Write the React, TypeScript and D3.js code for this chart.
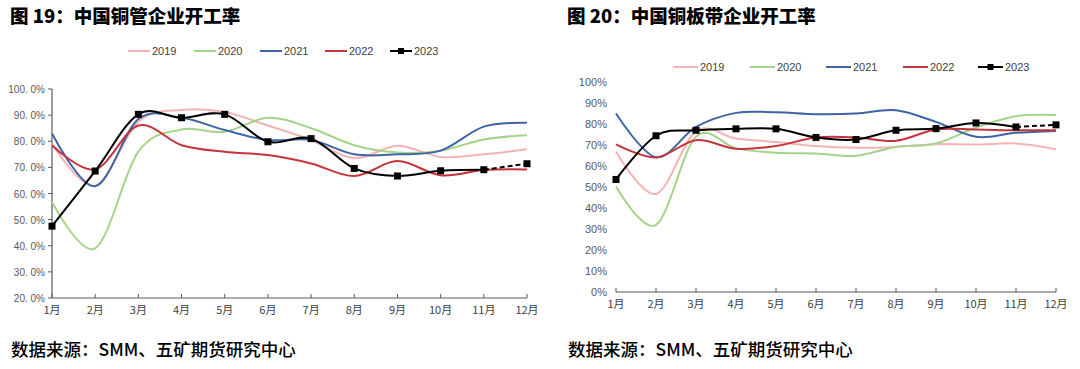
import React from "react";
import * as d3 from "d3";

// month labels shared by both charts
const months = ["1月", "2月", "3月", "4月", "5月", "6月", "7月", "8月", "9月", "10月", "11月", "12月"];
const years = ["2019", "2020", "2021", "2022", "2023"];
const colors = ["#F4B4B6", "#A6D38A", "#3E64A6", "#C5343A", "#000000"];

// 图19 铜管开工率 (%)
const tube2019 = [79, 63, 87.5, 92, 91.2, 86, 80.5, 73.5, 78.3, 74, 75, 76.9];
const tube2020 = [56.8, 39, 76, 84.5, 83.6, 89, 85, 78.5, 75.7, 76.4, 80.7, 82.3];
const tube2021 = [83, 62.8, 88.5, 89, 84.3, 80.5, 80.5, 75, 75, 76.4, 85.6, 87.1];
const tube2022 = [78.5, 69.2, 86, 78.5, 76, 74.7, 71.5, 66.7, 72.4, 67, 69, 69.2];
const tube2023 = [47.5, 68.6, 90.3, 89, 90.3, 79.8, 81, 69.6, 66.7, 68.7, 69.1, 71.4];
const tubeTicks = [20, 30, 40, 50, 60, 70, 80, 90, 100];

// 图20 铜板带开工率 (%)
const strip2019 = [66.8, 46.7, 76.5, 73.1, 71.4, 69.5, 68.7, 69.1, 70.4, 70.2, 70.7, 68];
const strip2020 = [50.2, 32, 74, 68.4, 66.3, 66, 64.9, 69.1, 70.7, 78.3, 83.7, 84.3];
const strip2021 = [85, 64.2, 78.6, 85.3, 85.6, 84.7, 85, 86.6, 81, 73.9, 75.8, 76.7];
const strip2022 = [70.3, 64.1, 72.3, 68.2, 69.5, 73.6, 73.6, 72, 77.4, 77.4, 77, 77];
const strip2023 = [53.6, 74.4, 77, 77.7, 77.7, 73.6, 72.6, 77, 77.8, 80.5, 78.6, 79.6];
const stripTicks = [0, 10, 20, 30, 40, 50, 60, 70, 80, 90, 100];

interface PanelProps {
  x0: number;
  title: string;
  series: number[][];
  ticks: number[];
  xRange: [number, number];
  yRange: [number, number];
  yDomain: [number, number];
  fmt: (v: number) => string;
  yAxisLine: boolean;
  tickFont: string;
  legendY: number;
  legendX: number[];
  legendLen: number;
}

function Panel(props: PanelProps) {
  const { x0, title, series, ticks, xRange, yRange, yDomain, fmt } = props;
  const x = d3.scalePoint<string>().domain(months).range(xRange);
  const y = d3.scaleLinear().domain(yDomain).range(yRange);
  const line = d3
    .line<number>()
    .x((_, i) => x(months[i])!)
    .y(d => y(d))
    .curve(d3.curveCardinal.tension(0));
  const bottom = yRange[0];
  const last = series[4];
  return (
    <g>
      <text x={x0 + 10} y={23} fontFamily="'Noto Sans CJK SC'" fontWeight={900} fontSize={18.5} fill="#000">
        {title}
      </text>
      {/* legend */}
      {years.map((yr, i) => {
        const lx = props.legendX[i];
        return (
          <g key={yr}>
            <line x1={lx} x2={lx + props.legendLen} y1={props.legendY} y2={props.legendY} stroke={colors[i]} strokeWidth={2} />
            {i === 4 && (
              <rect x={lx + props.legendLen / 2 - 3} y={props.legendY - 3} width={6} height={6} fill="#000" />
            )}
            <text x={lx + props.legendLen + 2} y={props.legendY + 4} fontSize={11} fontFamily={props.tickFont} fill="#404040">
              {yr}
            </text>
          </g>
        );
      })}
      {/* y axis */}
      {props.yAxisLine && (
        <line x1={xRange[0]} x2={xRange[0]} y1={yRange[1]} y2={bottom} stroke="#595959" strokeWidth={1.2} />
      )}
      {ticks.map(t => (
        <g key={t}>
          {props.yAxisLine && <line x1={xRange[0] - 4} x2={xRange[0]} y1={y(t)} y2={y(t)} stroke="#595959" />}
          <text
            x={xRange[0] - (props.yAxisLine ? 7 : 9)}
            y={y(t) + 4}
            textAnchor="end"
            fontSize={props.yAxisLine ? 10 : 11}
            fontFamily={props.tickFont}
            fill="#595959"
          >
            {fmt(t)}
          </text>
        </g>
      ))}
      {/* x axis */}
      <line x1={xRange[0]} x2={xRange[1]} y1={bottom} y2={bottom} stroke="#595959" strokeWidth={1.2} />
      {months.map(m => (
        <g key={m}>
          <line x1={x(m)!} x2={x(m)!} y1={bottom} y2={bottom - 4} stroke="#595959" />
          <text x={x(m)!} y={bottom + 16} textAnchor="middle" fontSize={11} fontFamily="'Noto Sans CJK SC'" fill="#404040">
            {m}
          </text>
        </g>
      ))}
      {/* series */}
      {series.slice(0, 4).map((s, i) => (
        <path key={i} d={line(s)!} fill="none" stroke={colors[i]} strokeWidth={2} />
      ))}
      <path d={line(last.slice(0, 11))!} fill="none" stroke="#000" strokeWidth={2} />
      <path
        d={d3.line<number>().x((_, i) => x(months[10 + i])!).y(d => y(d))(last.slice(10))!}
        fill="none"
        stroke="#000"
        strokeWidth={2}
        strokeDasharray="5,3"
      />
      {last.map((v, i) => (
        <rect key={i} x={x(months[i])! - 3.5} y={y(v) - 3.5} width={7} height={7} fill="#000" />
      ))}
      <text x={x0 + 11} y={356} fontFamily="'Noto Sans CJK SC'" fontWeight={500} fontSize={17.5} fill="#000">
        数据来源：SMM、五矿期货研究中心
      </text>
    </g>
  );
}

export default function App() {
  return (
    <svg width={1080} height={369} style={{ position: "absolute", left: 0, top: 0, background: "#fff" }}>
      <rect width={1080} height={369} fill="#fff" />
      <Panel
        x0={0}
        title="图 19：中国铜管企业开工率"
        series={[tube2019, tube2020, tube2021, tube2022, tube2023]}
        ticks={tubeTicks}
        xRange={[52, 527]}
        yRange={[298, 89]}
        yDomain={[20, 100]}
        fmt={v => v.toFixed(1).replace(".", ". ") + "%"}
        yAxisLine={true}
        tickFont="'Liberation Sans'"
        legendY={51}
        legendX={[128, 194, 260, 325, 390]}
        legendLen={22}
      />
      <Panel
        x0={557}
        title="图 20：中国铜板带企业开工率"
        series={[strip2019, strip2020, strip2021, strip2022, strip2023]}
        ticks={stripTicks}
        xRange={[616, 1056]}
        yRange={[292, 82]}
        yDomain={[0, 100]}
        fmt={v => v + "%"}
        yAxisLine={false}
        tickFont="'Liberation Sans'"
        legendY={67}
        legendX={[673, 750, 826, 903, 978]}
        legendLen={25}
      />
    </svg>
  );
}
